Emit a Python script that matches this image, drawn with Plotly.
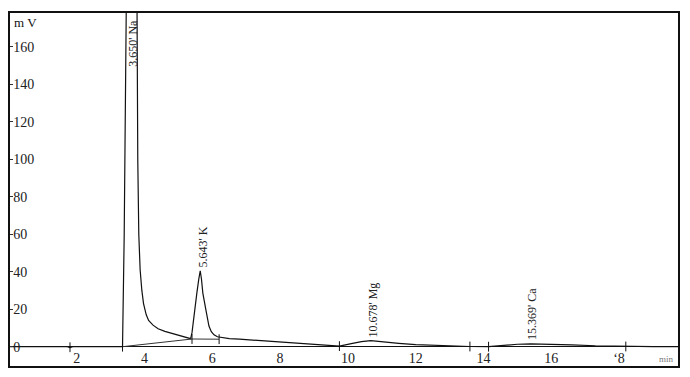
import plotly.graph_objects as go

# Chromatogram signal (time in min, signal in mV)
time_min = [0.0, 1.72, 1.80, 1.88, 3.35, 3.40, 3.47, 3.52, 3.74, 3.77, 3.80, 3.83, 3.87, 3.92, 3.97,
            4.05, 4.12, 4.25, 4.40, 4.60, 4.85, 5.10, 5.36, 5.40, 5.475, 5.543, 5.60, 5.643, 5.68,
            5.72, 5.81, 5.90, 5.97, 6.05, 6.15, 6.30, 6.50, 6.80, 7.20, 8.00, 9.00, 9.75, 10.10, 10.40,
            10.678, 11.00, 11.50, 12.00, 12.80, 13.60, 14.15, 14.60, 15.00, 15.40, 16.00,
            16.60, 17.30, 18.20, 19.00, 19.80]
signal_mv = [0.0, 0.0, -0.5, 0.0, 0.0, 60.0, 200.0, 320.0, 320.0, 178.0, 100.0, 60.0, 41.0, 30.0, 23.0,
             17.0, 14.0, 11.5, 9.6, 8.2, 6.8, 5.5, 4.3, 7.5, 19.6, 28.6, 36.0, 40.5, 36.0,
             28.6, 19.6, 11.0, 8.0, 6.3, 5.3, 4.7, 4.3, 4.0, 3.5, 2.7, 1.2, 0.3, 1.6, 2.7,
             3.2, 2.8, 1.8, 1.1, 0.5, 0.1, 0.0, 0.8, 1.3, 1.5, 1.4,
             1.0, 0.5, 0.1, 0.0, 0.0]

# Integration baselines
base_na_t = [3.35, 5.40]
base_na_v = [0.0, 4.1]
base_k_t = [5.40, 6.20]
base_k_v = [4.1, 4.0]

# Peak boundary markers
bound_t = [1.80, 3.35, 5.40, 6.20, 9.75, 13.60, 14.15, 18.20]
bound_v = [-0.3, 0.0, 4.1, 4.0, 0.3, 0.1, 0.0, 0.1]

# Peak labels
peak_label = ["3.650' Na", "5.643' K", "10.678' Mg", "15.369' Ca"]
peak_label_t = [3.66, 5.73, 10.74, 15.43]
peak_label_v = [148.0, 41.0, 4.1, 2.5]

y_ticks = [0, 20, 40, 60, 80, 100, 120, 140, 160]
x_ticks = [2, 4, 6, 8, 10, 12, 14, 16, 18]
x_tick_text = ["2", "4", "6", "8", "10", "12", "14", "16", "\u02bb8"]

serif = "Liberation Serif, Times New Roman, serif"

fig = go.Figure()
fig.add_trace(go.Scatter(x=time_min, y=signal_mv, mode="lines",
                         line=dict(color="#111111", width=1.2), hoverinfo="skip"))
fig.add_trace(go.Scatter(x=base_na_t, y=base_na_v, mode="lines",
                         line=dict(color="#333333", width=1), hoverinfo="skip"))
fig.add_trace(go.Scatter(x=base_k_t, y=base_k_v, mode="lines",
                         line=dict(color="#333333", width=1), hoverinfo="skip"))
fig.add_trace(go.Scatter(x=bound_t, y=bound_v, mode="markers",
                         marker=dict(symbol="line-ns", size=7,
                                     line=dict(color="#111111", width=1)),
                         hoverinfo="skip"))

for lab, t, v in zip(peak_label, peak_label_t, peak_label_v):
    fig.add_annotation(x=t, y=v, text=lab, textangle=-90, showarrow=False,
                       xanchor="center", yanchor="bottom",
                       font=dict(family=serif, size=12, color="#222222"))

fig.add_annotation(xref="paper", yref="paper", x=0, y=1, xanchor="left", yanchor="top",
                   xshift=2, yshift=0, text="m V", showarrow=False,
                   font=dict(family=serif, size=13, color="#111111"))
fig.add_annotation(xref="paper", yref="paper", x=1, y=0, xanchor="right", yanchor="bottom",
                   xshift=-2, yshift=0, text="min", showarrow=False,
                   font=dict(family=serif, size=9, color="#777777"))

fig.update_layout(
    width=690, height=377,
    margin=dict(l=10, r=12, t=13, b=11),
    paper_bgcolor="white", plot_bgcolor="white",
    showlegend=False,
    xaxis=dict(range=[0.03, 19.74], tickvals=x_ticks, ticktext=x_tick_text,
               ticklabelposition="inside", ticks="", showgrid=False, zeroline=False,
               showline=True, linecolor="#111111", linewidth=2, mirror=True,
               tickfont=dict(family=serif, size=14, color="#222222")),
    yaxis=dict(range=[-10.3, 178], tickvals=y_ticks,
               ticklabelposition="inside", ticks="inside", ticklen=3, tickcolor="#333333",
               showgrid=False, zeroline=True, zerolinecolor="#111111", zerolinewidth=1,
               showline=True, linecolor="#111111", linewidth=2, mirror=True,
               tickfont=dict(family=serif, size=14, color="#222222")),
)

fig.write_html("out.html")
